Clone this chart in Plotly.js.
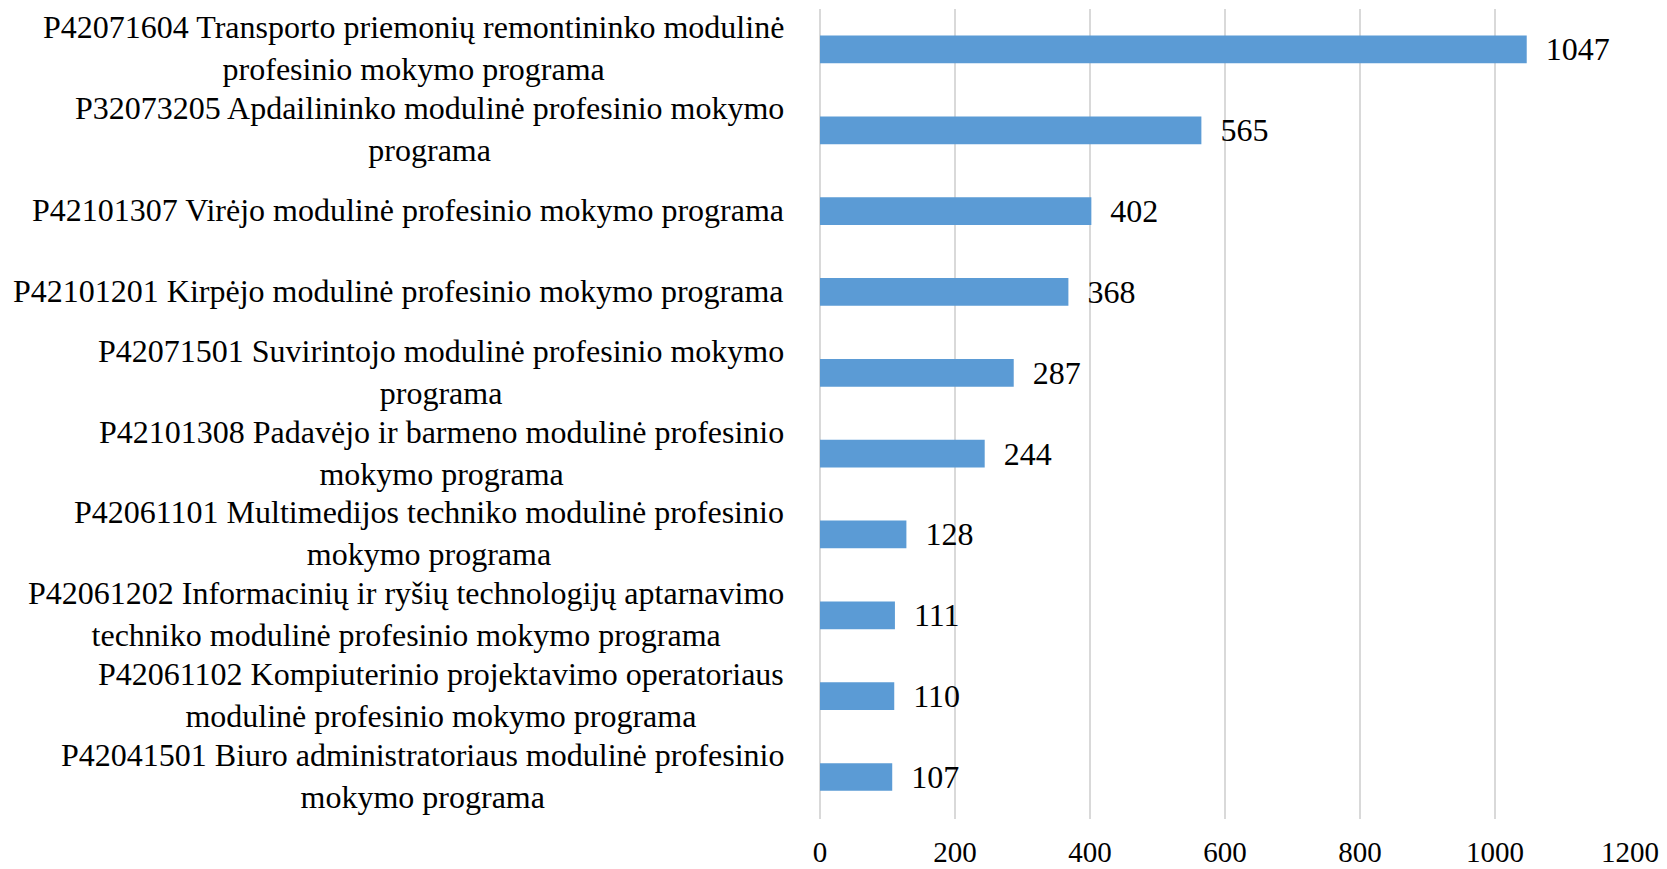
<!DOCTYPE html>
<html>
<head>
<meta charset="utf-8">
<script src="https://cdn.plot.ly/plotly-3.0.1.min.js"></script>
<style>html,body{margin:0;padding:0;background:#fff;}#chart{width:1667px;height:869px;}</style>
</head>
<body>
<div id="chart"></div>
<script>
const categories = [
  "P42071604 Transporto priemonių remontininko modulinė<br>profesinio mokymo programa",
  "P32073205 Apdailininko modulinė profesinio mokymo<br>programa",
  "P42101307 Virėjo modulinė profesinio mokymo programa",
  "P42101201 Kirpėjo modulinė profesinio mokymo programa",
  "P42071501 Suvirintojo modulinė profesinio mokymo<br>programa",
  "P42101308 Padavėjo ir barmeno modulinė profesinio<br>mokymo programa",
  "P42061101 Multimedijos techniko modulinė profesinio<br>mokymo programa",
  "P42061202 Informacinių ir ryšių technologijų aptarnavimo<br>techniko modulinė profesinio mokymo programa",
  "P42061102 Kompiuterinio projektavimo operatoriaus<br>modulinė profesinio mokymo programa",
  "P42041501 Biuro administratoriaus modulinė profesinio<br>mokymo programa"
];
const values = [1047, 565, 402, 368, 287, 244, 128, 111, 110, 107];
const xTicks = [0, 200, 400, 600, 800, 1000, 1200];

const FONT = "'Liberation Serif', 'Times New Roman', serif";

const trace = {
  type: 'bar',
  orientation: 'h',
  y: categories,
  x: values,
  marker: {color: '#5B9BD5'},
  text: values.map(v => '\u00a0\u00a0' + v),
  textposition: 'outside',
  constraintext: 'none',
  textfont: {family: FONT, size: 32, color: '#000'},
  cliponaxis: false,
  hoverinfo: 'x+y'
};

const annotations = categories.map(c => ({
  xref: 'paper', yref: 'y', x: 0, y: c,
  xanchor: 'right', yanchor: 'middle', xshift: -34, yshift: 1,
  text: c, align: 'center', showarrow: false,
  font: {family: FONT, size: 32, color: '#000'}
}));

const layout = {
  width: 1667, height: 869,
  margin: {l: 820, r: 37, t: 9, b: 50},
  paper_bgcolor: '#fff', plot_bgcolor: '#fff',
  showlegend: false,
  bargap: 0.657,
  font: {family: FONT, size: 30, color: '#000'},
  xaxis: {
    range: [0, 1200], tickvals: xTicks, ticktext: xTicks.map(String),
    showgrid: true, gridcolor: '#d9d9d9', gridwidth: 1.3,
    zeroline: true, zerolinecolor: '#d9d9d9', zerolinewidth: 1.3,
    showline: false, ticks: '', ticklabelstandoff: 13,
    tickfont: {family: FONT, size: 29, color: '#000'}, fixedrange: true
  },
  yaxis: {
    type: 'category', autorange: 'reversed', showticklabels: false,
    showgrid: false, zeroline: false, showline: false, ticks: '', fixedrange: true
  },
  annotations: annotations
};

Plotly.newPlot('chart', [trace], layout, {displayModeBar: false, staticPlot: true});
</script>
</body>
</html>
